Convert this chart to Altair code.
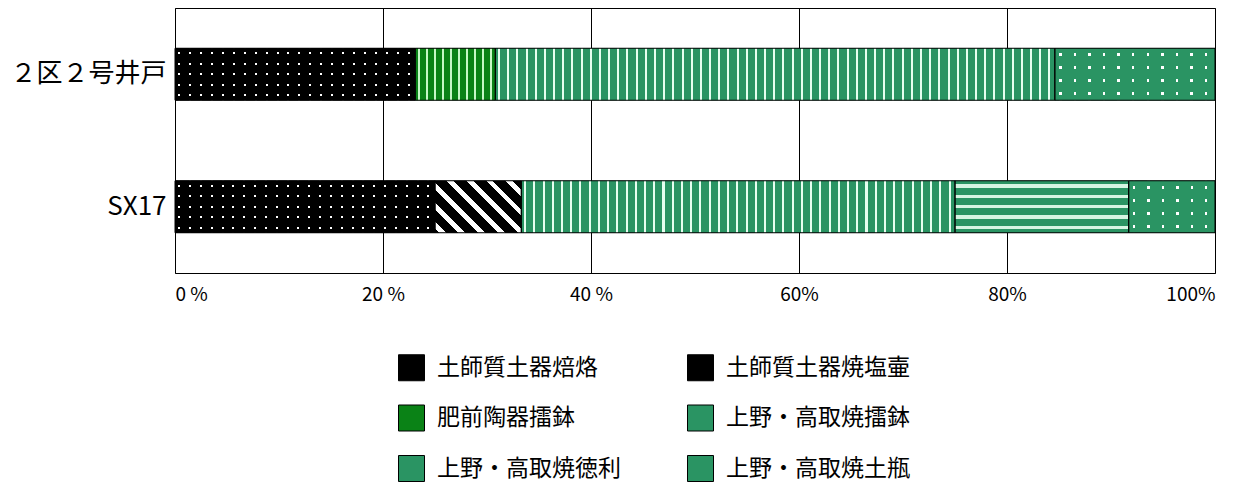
import altair as alt
import pandas as pd

groups = ["２区２号井戸", "SX17"]
categories = ["土師質土器焙烙", "土師質土器焼塩壷", "肥前陶器擂鉢",
              "上野・高取焼擂鉢", "上野・高取焼徳利", "上野・高取焼土瓶"]
pct_well = [23.1, 0.0, 7.7, 53.8, 0.0, 15.4]
pct_sx17 = [25.0, 8.3, 0.0, 41.7, 16.7, 8.3]
colors = ["#000000", "#000000", "#0a8216", "#2a9463", "#2a9463", "#2a9463"]
# legend is laid out column by column: left column first, then right column
legend_order = [0, 2, 4, 1, 3, 5]
tick_values = [0, 20, 40, 60, 80, 100]
tick_labels = ["0 %", "20 %", "40 %", "60%", "80%", "100%"]

FONT = "Noto Sans CJK JP"
PLOT_W = 1040
PLOT_H = 265
BAR_H = 52
SYM = 26
PX_PER_PCT = PLOT_W / 100.0

rows = []
for g, vals in zip(groups, [pct_well, pct_sx17]):
    s = 0.0
    for c, v in zip(categories, vals):
        if v > 0:
            rows.append({"group": g, "category": c, "start": s, "end": s + v, "pct": v})
            s += v
df = pd.DataFrame(rows)
df["seg"] = range(len(df))


def stripe_stops(base, line, n, frac, phase=0.0):
    n = max(int(n), 1)
    out = []
    for i in range(n):
        a = i / n
        b = (i + phase) / n
        c = (i + phase + frac) / n
        d = (i + 1) / n
        out += [(a, base), (b, base), (b, line), (c, line), (c, base), (d, base)]
    return [{"offset": round(min(max(o, 0.0), 1.0), 5), "color": col} for o, col in out]


def grad_v_stripes(base, line, w, period, thick):
    return {"gradient": "linear", "x1": 0, "y1": 0, "x2": 1, "y2": 0,
            "stops": stripe_stops(base, line, round(w / period), thick / period, 0.3)}


def grad_h_stripes(base, line, h, period, thick):
    return {"gradient": "linear", "x1": 0, "y1": 0, "x2": 0, "y2": 1,
            "stops": stripe_stops(base, line, round(h / period), thick / period, 0.5 - thick / period / 2)}


def grad_diag(base, line, w, h, period_x, frac):
    r = h / w
    a = (1 + r) / (1 + r * r)
    n = round((w + h) / period_x)
    return {"gradient": "linear", "x1": 0, "y1": 1, "x2": a, "y2": 1 - a * r,
            "stops": stripe_stops(base, line, n, frac, 0.2)}


def fills_for(cat, w, h):
    if cat == categories[0]:
        return [grad_h_stripes("#000000", "#ffffff", h, 10.4, 2),
                grad_v_stripes("#000000", "rgba(0,0,0,0)", w, 11, 2)]
    if cat == categories[1]:
        return [grad_diag("#000000", "#ffffff", w, h, 19, 0.35)]
    if cat == categories[2]:
        return [grad_v_stripes("#0a8216", "#c6f7c6", w, 8.3, 2)]
    if cat == categories[3]:
        return [grad_v_stripes("#2a9463", "#e6fff0", w, 9.2, 2)]
    if cat == categories[4]:
        return [grad_h_stripes("#2a9463", "#d6f5e2", h, 10.4, 3.5)]
    return [grad_h_stripes("#2a9463", "#ffffff", h, 13, 2.5),
            grad_v_stripes("#2a9463", "rgba(0,0,0,0)", w, 15, 2.5)]


label_expr = ""
for v, l in zip(tick_values, tick_labels):
    label_expr += f"datum.value == {v} ? '{l}' : "
label_expr += "''"

x_enc = alt.X("start:Q",
              scale=alt.Scale(domain=[0, 100], nice=False, zero=True),
              axis=alt.Axis(values=tick_values, labelExpr=label_expr, title=None,
                            grid=True, gridColor="#000000", gridOpacity=1, gridWidth=1,
                            ticks=False, domain=False, labelFont=FONT, labelFontSize=19,
                            labelColor="#000000", labelPadding=12))
y_enc = alt.Y("group:N", sort=groups,
              scale=alt.Scale(paddingInner=0, paddingOuter=0),
              axis=alt.Axis(title=None, ticks=False, domain=False, labelFont=FONT,
                            labelFontSize=26, labelColor="#000000", labelPadding=9,
                            minExtent=167, maxExtent=167))

base = alt.Chart(df).mark_bar(size=BAR_H).encode(
    x=x_enc, x2="end:Q", y=y_enc,
    color=alt.Color("category:N",
                    scale=alt.Scale(domain=[categories[i] for i in legend_order],
                                    range=[colors[i] for i in legend_order]),
                    legend=alt.Legend(title=None, orient="none", legendX=223, legendY=346,
                                      columns=2, symbolType="square", symbolSize=SYM * SYM,
                                      symbolStrokeColor="#000000", symbolStrokeWidth=1,
                                      symbolOpacity=1, labelFont=FONT, labelFontSize=23,
                                      labelColor="#000000", labelOffset=12, labelLimit=400,
                                      rowPadding=19.5, columnPadding=64, padding=0)),
)

layers = [base]
for _, r in df.iterrows():
    w = r["pct"] * PX_PER_PCT
    for f in fills_for(r["category"], w, BAR_H):
        layers.append(
            alt.Chart(df).transform_filter(alt.datum.seg == int(r["seg"]))
            .mark_bar(size=BAR_H, fill=f, strokeWidth=0)
            .encode(x="start:Q", x2="end:Q", y=alt.Y("group:N", sort=groups))
        )

outline = alt.Chart(df).mark_bar(size=BAR_H, fillOpacity=0, stroke="#000000", strokeWidth=1).encode(
    x="start:Q", x2="end:Q", y=alt.Y("group:N", sort=groups))
layers.append(outline)

chart = alt.layer(*layers).properties(
    width=PLOT_W, height=PLOT_H,
    padding={"left": 0, "top": 0, "right": 10, "bottom": 2},
    background="#ffffff",
).configure_view(stroke="#000000", strokeWidth=1)

chart.save("out.html", embed_options={"renderer": "svg", "actions": False})
